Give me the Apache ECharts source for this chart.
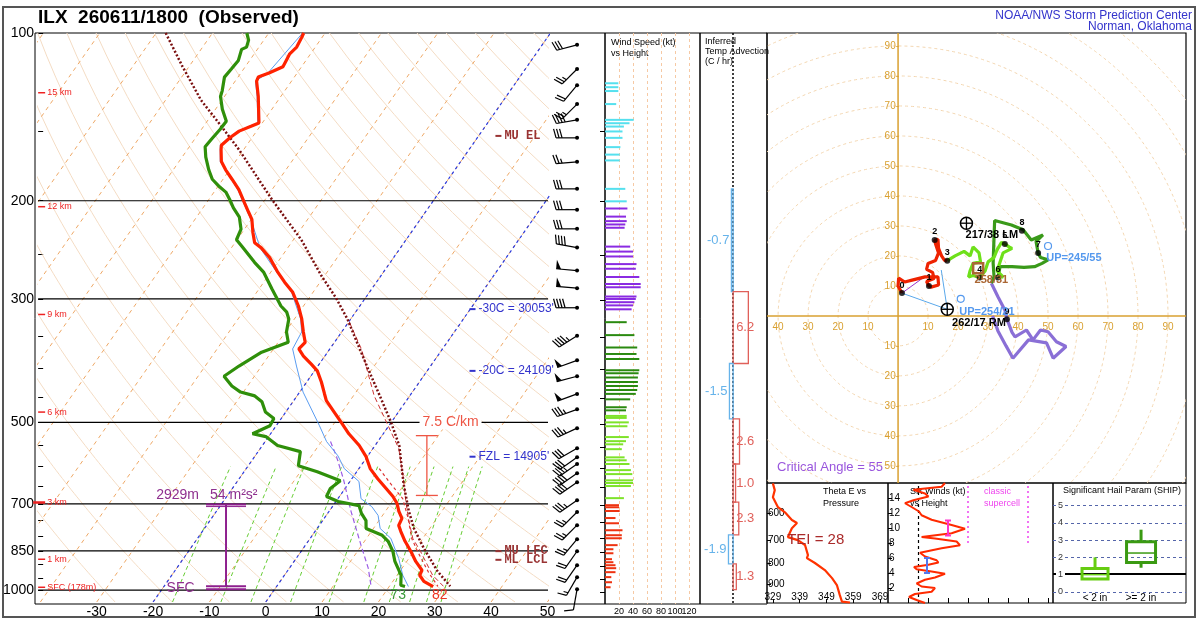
<!DOCTYPE html>
<html><head><meta charset="utf-8">
<script src="https://cdn.jsdelivr.net/npm/echarts@6/dist/echarts.min.js"></script>
<style>html,body{margin:0;padding:0;background:#fff}#c{width:1200px;height:619px}</style>
</head><body><div id="c"></div>
<script>
const FONT = "'Liberation Sans', Arial, sans-serif";
const SKEW = 30, PBOT = 1050;
function sx(t, p){ return t + SKEW*Math.log(PBOT/p); }
function prof(P, T){ return P.map((p,i)=>[sx(T[i],p), p]); }

// ---------------- DATA ----------------
const tempP = [100,102,106,109,112,115,118,120,122,130,145,147,150,154,159,162,170,176,183,191,202,210,216,228,238,243,253,268,280,292,309,326,344,359,369,380,393,404,423,444,457,479,503,524,550,576,605,631,657,679,699,722,743,765,784,817,852,888,921,940,964,985];
const tempT = [-63.8,-63.6,-63.3,-63.7,-63.5,-63.3,-65.0,-66.4,-66.2,-64.0,-60.6,-61.6,-63.1,-63.9,-64.5,-64.0,-62.5,-60.7,-58.4,-55.9,-53.2,-51.3,-49.9,-48.1,-46.5,-44.7,-42.0,-38.9,-36.3,-33.6,-30.9,-28.7,-26.8,-25.2,-25.5,-23.8,-21.4,-19.5,-17.4,-15.4,-14.2,-11.4,-8.5,-6.1,-2.8,-0.2,2.0,4.6,7.3,9.5,11.1,12.4,13.8,14.1,15.2,17.2,19.5,21.6,23.8,24.0,25.5,27.8];
const dwptP = [100,103,106,107,112,116,120,127,130,137,144,149,155,160,167,176,183,189,193,199,206,214,225,235,242,258,269,288,309,317,326,344,359,365,374,396,413,430,441,448,459,479,492,507,524,530,550,564,598,613,636,657,679,693,705,728,750,775,797,817,852,888,940,980,985];
const dwptT = [-73.9,-72.7,-72.2,-72.8,-72.0,-72.2,-72.4,-71.1,-70.7,-68.8,-66.6,-66.7,-67.0,-67.2,-65.8,-63.7,-61.9,-59.6,-57.9,-56.3,-54.6,-52.4,-50.6,-50.1,-48.2,-44.1,-41.2,-37.7,-34.0,-32.2,-31.0,-29.8,-28.2,-29.6,-31.7,-34.0,-35.4,-32.8,-30.5,-27.5,-25.5,-23.6,-21.3,-21.1,-23.2,-20.5,-17.3,-12.5,-11.1,-7.0,-1.8,-2.6,-2.3,0.4,4.6,6.0,7.7,8.7,12.4,14.2,16.3,17.9,20.7,21.9,22.8];
const wetbP = [100,118,122,130,145,150,159,170,191,216,243,268,292,326,344,369,396,441,507,541,574,605,638,685,708,734,775,807,877,940,985];
const wetbT = [-64.0,-65.2,-66.4,-64.2,-60.8,-63.3,-64.7,-62.7,-56.1,-50.1,-44.9,-39.1,-33.8,-28.9,-27.1,-26.6,-23.8,-19.4,-12.3,-9.1,-5.3,-2.6,1.6,4.1,7.0,9.2,11.2,14.3,18.2,21.0,23.4];
const muParcelP = [100,115,132,146,162,199,235,273,299,326,359,401,448,499,550,644,719,775,841,925,984];
const muParcelT = [-88.3,-81.1,-73.7,-67.3,-60.8,-48.8,-38.6,-30.5,-25.2,-20.6,-16.0,-10.7,-5.3,-0.1,4.3,9.8,14.0,17.2,21.4,26.7,30.8];
const mlParcelP = [330,369,448,557,623,693,750,807,852,940,984];
const mlParcelT = [-19.9,-14.4,-6.3,4.6,8.7,12.4,15.3,18.2,21.2,26.3,29.6];
const vtParcelP = [605,644,685,743,807,859,932,984];
const vtParcelT = [3.6,7.5,11.5,14.9,18.0,21.1,25.4,28.6];
const downP = [541,574,631,722,831,913,980];
const downT = [-8.4,-5.6,-1.5,3.9,9.9,14.0,16.6];

const isobarP = [200,300,500,700,850,1000];
const pressLabels = [100,200,300,500,700,850,1000];
const tempLabels = [-30,-20,-10,0,10,20,30,40,50];
const isothermT = [-120,-110,-100,-90,-80,-70,-60,-50,-40,-30,-20,-10,0,10,20,30,40,50];
const adiabatTheta = [243,253,263,273,283,293,303,313,323,333,343,353,363,373,383,393,403,413,423,433,443,453,463,473,483,493,503,513,523];
const mixW = [1,2,3,5,8,12,16,20,24,28];
const blueIsoT = [-20,0];

const hgtNames = ['15 km','12 km','9 km','6 km','3 km','1 km','SFC (178m)'];
const hgtP = [128,205,320,479,696,880,988];
const isoLblText = ["-30C = 30053'", "-20C = 24109'", "FZL = 14905'"];
const isoLblP = [313,404,576];
const lvlLblText = ['MU EL','MU LFC','ML LCL'];
const lvlLblP = [153,851,882];
const lapseBar = [[28.6,528,676]];
const inflowBar = [[-7.05,702,984]];

const barbP = [105,116,124,134,143,154,170,190,207,224,242,266,286,310,348,385,411,442,471,509,553,574,590,613,636,685,719,759,804,845,895,940,988];
const barbDir = [255,225,220,225,260,270,265,270,270,270,280,275,275,270,238,250,255,250,250,245,240,235,235,235,235,235,225,225,220,215,215,210,190];
const barbSpd = [30,25,20,25,40,30,25,30,30,30,40,50,50,40,45,50,50,50,35,35,30,30,35,40,40,35,25,25,25,20,20,15,10];

const wsCyanP = [123,125,127,134,143,145,147,150,154,160,165,169,190,200];
const wsCyanKt = [19,19,19,16,41,35,27,25,25,22,21,21,29,31];
const wsPurpleP = [206,213,217,220,223,241,246,251,259,264,273,281,285,296,299,303,307,312];
const wsPurpleKt = [32,30,31,29,28,36,40,40,45,44,49,51,51,45,44,42,40,38];
const wsDkGreenP = [329,347,365,375,383,401,406,413,421,428,435,442,452,467,473];
const wsDkGreenKt = [31,42,46,45,49,49,48,47,47,47,46,44,36,31,30];
const wsLtGreenP = [484,488,497,505,528,537,544,555,574,581,590,605,615,631,638,646,679];
const wsLtGreenKt = [31,31,34,32,34,30,26,24,28,31,35,37,39,40,40,37,27];
const wsRedP = [699,705,716,737,753,775,791,801,824,838,852,873,884,895,906,921,940,960,980];
const wsRedKt = [20,20,21,15,20,25,24,24,18,12,12,10,12,15,16,15,9,10,8];
const wsTicks = [20,40,60,80,100,120];

const advTopP = [190,290,390,490,590,690,790,890];
const advBotP = [290,390,490,590,690,790,890,990];
const advVal = [-0.7,6.2,-1.5,2.6,1.0,2.3,-1.9,1.3];

const hodo03 = [[1.3,7.6],[0,10],[0.2,12.6],[2.2,11.3],[5,12],[9,13],[13.3,13],[13.5,10.3],[11,9.6],[10.3,10],[9.5,11.5],[12,12.5],[11.5,14.5],[9.5,15.5],[10,17.5],[12.5,18.5],[13.5,21],[12.5,24],[12.2,25.3],[13.3,25.5],[13.5,22.5],[14.5,20],[15.5,18.5],[16.4,18.4]];
const hodo36 = [[16.4,18.4],[19,20],[22,21.5],[24,20],[25,23],[27,21],[27.5,18],[25,17.5],[24,15],[23.5,13],[25,13.5],[27.2,12.8],[29,15],[30,18],[32,19.5],[33,22],[34.5,24.5],[35.6,24],[37,23],[38,22.5],[35,21],[34,18],[33,15],[35,13],[33.3,12.8]];
const hodo69 = [[33.3,12.8],[34,16.4],[38,16.4],[42,16.2],[45.5,16.4],[48,17.5],[50,18.7],[47.5,19.5],[46.7,21],[46,24.8],[48.3,27],[44.4,25.3],[41.7,28.7],[41.3,28.4],[37.8,30.3],[32.2,31.8],[32,26.4],[31.7,17.6],[32,13.1],[31.1,10.9]];
const hodo912 = [[31.1,10.9],[33.3,6.4],[35.6,2],[36.3,-1.1],[38,-5.5],[39,-7],[42.8,-4.7],[45,-8],[47.5,-4.7],[50,-5.3],[52.8,-8.6],[56,-10.2],[51.7,-14.1],[49.5,-9],[46.5,-8.5],[43.5,-8],[38.3,-14.1],[36,-10],[33.3,-5],[31.5,0]];
const hodoKmPts = [[1.3,7.6],[10.3,10],[12.2,25.3],[16.4,18.4],[27.2,12.8],[35.6,24],[33.3,12.8],[46.7,21],[41.3,28.4],[36.3,-1.1]];
const hodoKmNames = ['0','1','2','3','4','5','6','7','8','9'];
const ringR = [10,20,30,40,50,60,70,80,90,100,110,120];
const hodoXTicks = [-40,-30,-20,-10,10,20,30,40,50,60,70,80,90];
const hodoYTicks = [-50,-40,-30,-20,-10,10,20,30,40,50,60,70,80,90];
const stormMarks = [[22.8,30.9,0],[16.4,2.2,0],[20.9,5.7,1],[50,23.3,1],[26.7,15.9,2]];
const hodoText = ['217/38 LM','262/17 RM','UP=254/21','UP=245/55','258/31'];
const hodoTextPos = [[22.5,27],[18,-2.2],[20.4,1.4],[49.4,19.2],[25.5,12]];
const hodoTextColor = ['#000','#000','#5599ee','#5599ee','#aa6633'];
const rmToUp = [[16.4,2.2],[14.4,15.3]];
const sfcToMean = [[1.3,7.6],[8.9,13.1]];

const thetaEP = [506,526,548,580,597,624,635,654,688,700,720,763,776,798,831,870,905,959,995,1000];
const thetaE = [329,329.7,329,330.9,333.5,336.1,338.0,336.1,334.6,338.3,341.0,342.1,341.7,344.7,348.4,351.1,352.9,354.0,354.8,357.8];
const thetaTicks = [329,339,349,359,369];
const thetaPTicks = [600,700,800,900];

const srKm = [0,0.4,0.8,1.2,1.5,2.0,2.2,2.6,3.1,3.4,3.9,4.2,4.5,4.8,5.1,5.4,5.7,6.2,6.7,7.3,7.7,8.2,8.6,8.8,9.3,9.9,10.4,11.1,11.7,12.2,12.8,13.3,13.7,14.2,14.6,15.1,15.5,16];
const srKt = [18.5,14.3,10.5,13.5,21.8,23.5,16.8,14.3,18.5,23.5,28.5,21.8,14.3,13,20.2,25.2,24.3,18.5,16,26.8,36,34.3,23.5,16.8,31.8,38.5,31.8,21.8,16.8,15.5,11.8,8.5,12.7,20.2,18.5,12.7,26.8,28.5];
const srKmTicks = [2,4,6,8,10,12,14];
const srKtTicks = [10,20,30,40,50,60,70,80];

const shipX = [0.316,0.662];
const shipLo = [0.75,1.4], shipQ1 = [0.75,1.7], shipMed = [1.0,2.25], shipQ3 = [1.35,2.9], shipHi = [2.0,3.6];
const shipNames = ['< 2 in','>= 2 in'];
const shipTicks = [0,1,2,3,4,5];

// ---------------- HELPERS ----------------
const series = [];
const SK = {xAxisIndex:1, yAxisIndex:1};
function bgLine(pts, color, width, type, z){
  series.push(Object.assign({type:'line', data:pts, symbol:'none', silent:true, animation:false, clip:true,
    lineStyle:{color:color, width:width, type:type}, z:z||1}, SK));
}
function textSeries(xi, yi, pts, texts, st){
  return {type:'custom', xAxisIndex:xi, yAxisIndex:yi, encode:{x:0,y:1}, silent:true, animation:false, clip:false, z:st.z||30,
    data: pts,
    renderItem:function(params, api){
      const c = api.coord([api.value(0), api.value(1)]);
      const i = params.dataIndex;
      const col = Array.isArray(st.color) ? st.color[i] : st.color;
      const kids = [];
      if (st.dash){ kids.push({type:'line', shape:{x1:c[0]-3,y1:c[1],x2:c[0]+3,y2:c[1]}, style:{stroke:col, lineWidth:2}}); }
      kids.push({type:'text', x:c[0]+(st.dx||0), y:c[1]+(st.dy||0), style:{text:texts[i], fill:col, font:st.font,
        align:st.align||'left', verticalAlign:st.va||'middle', backgroundColor:st.bg, padding:st.pad}});
      return {type:'group', children:kids};
    }};
}

// ---------------- SKEW-T BACKGROUND ----------------
adiabatTheta.forEach(th=>{
  const pts=[]; for(let p=100;p<=1050;p+=10){ pts.push([sx(th*Math.pow(p/1000,0.2857)-273.15,p),p]); }
  bgLine(pts,'#f4dcc4',1,'solid',1);
});
isothermT.forEach(t=>bgLine([[sx(t,1050),1050],[sx(t,100),100]],'#eea866',1,[4,4],2));
mixW.forEach(w=>{
  const pts=[]; for(let p=1050;p>=600;p-=25){ const e=w*p/(622+w); const l=Math.log(e/6.112); pts.push([sx(243.5*l/(17.67-l),p),p]); }
  bgLine(pts,'#66cc33',1,[4,3],2);
});
blueIsoT.forEach(t=>bgLine([[sx(t,1050),1050],[sx(t,100),100]],'#2b3be0',1.2,[3,3],3));
isobarP.forEach(p=>bgLine([[-40.4,p],[50.1,p]],'#000',1.2,'solid',4));

// ---------------- PROFILES ----------------
function prLine(P,T,color,width,type,z){ series.push(Object.assign({type:'line', data:prof(P,T), symbol:'none', silent:true, animation:false, clip:true, lineStyle:{color:color,width:width,type:type}, z:z}, SK)); }
prLine(downP,downT,'#9b5de5',1.2,[5,3],6);
prLine(vtParcelP,vtParcelT,'#dd3333',1.2,[3,3],6);
prLine(mlParcelP,mlParcelT,'#cc3333',1,[5,3],6);
prLine(muParcelP,muParcelT,'#7a0f0f',2.5,[2,2],7);
prLine(wetbP,wetbT,'#5a9cf0',1,'solid',8);
prLine(dwptP,dwptT,'#2f8f0a',3.2,'solid',9);
prLine(tempP,tempT,'#ff2200',3.2,'solid',10);

function ibar(xi, yi, pts, color, half, width, dbl){
  return {type:'custom', xAxisIndex:xi, yAxisIndex:yi, encode:{x:0,y:[1,2]}, silent:true, animation:false, clip:false, z:12, data:pts,
    renderItem:function(params, api){
      const a = api.coord([api.value(0), api.value(1)]), b = api.coord([api.value(0), api.value(2)]);
      const st = {stroke:color, lineWidth:width};
      const k = [{type:'line', shape:{x1:a[0],y1:a[1],x2:b[0],y2:b[1]}, style:st},
        {type:'line', shape:{x1:a[0]-half,y1:a[1],x2:a[0]+half,y2:a[1]}, style:st},
        {type:'line', shape:{x1:b[0]-half,y1:b[1],x2:b[0]+half,y2:b[1]}, style:st}];
      if (dbl){ k.push({type:'line', shape:{x1:b[0]-half,y1:b[1]+3,x2:b[0]+half,y2:b[1]+3}, style:st});
                k.push({type:'line', shape:{x1:a[0]-half,y1:a[1]+2,x2:a[0]+half,y2:a[1]+2}, style:{stroke:color,lineWidth:1}}); }
      return {type:'group', children:k};
    }};
}
series.push(ibar(1,1,lapseBar,'#ee5544',11,1.3,false));
series.push(ibar(1,1,inflowBar,'#8e1f8e',20,2,true));

// texts on skew-T
series.push(textSeries(1,1,[[32.8,500]],['7.5 C/km'],{color:'#ee5544', font:'14px '+FONT, align:'center', bg:'#fff', pad:[0,3]}));
series.push(textSeries(1,1,[[inflowBar[0][0],inflowBar[0][1]]],['2929m'],{color:'#8e2f8e', font:'14px '+FONT, align:'right', dx:-27, dy:-9}));
series.push(textSeries(1,1,[[inflowBar[0][0],inflowBar[0][1]]],['54 m\u00b2s\u00b2'],{color:'#8e2f8e', font:'14px '+FONT, align:'left', dx:-16, dy:-9}));
series.push(textSeries(1,1,hgtP.map(p=>[-40.4,p]),hgtNames,{color:'#ee2222', font:'9px '+FONT, dx:9}));
series.push({type:'custom', xAxisIndex:1, yAxisIndex:1, encode:{x:0,y:1}, silent:true, clip:false, z:30, data:hgtP.map(p=>[-40.4,p]),
  renderItem:function(params, api){ const c=api.coord([api.value(0),api.value(1)]); const big = hgtNames[params.dataIndex]==='3 km';
    return {type:'line', shape:{x1:c[0]-(big?5:0),y1:c[1],x2:c[0]+7,y2:c[1]}, style:{stroke:'#ee2222', lineWidth:big?2.5:1.5}}; }});
series.push(textSeries(1,1,isoLblP.map(p=>[36.7,p]),isoLblText,{color:'#3333cc', font:'12px '+FONT, dx:6, dash:true}));
series.push(textSeries(1,1,lvlLblP.map(p=>[41.3,p]),lvlLblText,{color:'#993333', font:'bold 12px "Liberation Mono", "Courier New", monospace', dx:6, dash:true}));
series.push(textSeries(1,1,[[-17.6,990]],['SFC'],{color:'#8e2f8e', font:'14px '+FONT}));
series.push(textSeries(1,1,[[23.5,1021],[30.9,1021]],['73','82'],{color:['#3a9a3a','#ee3322'], font:'14px '+FONT, align:'center'}));

// ---------------- WIND BARBS ----------------
function renderBarb(params, api){
  const c = api.coord([api.value(0), api.value(1)]);
  const d = api.value(2)*Math.PI/180, spd = api.value(3);
  const ux = Math.sin(d), uy = -Math.cos(d), nx = -uy, ny = ux;
  const L = 21, F = 9;
  const tx = c[0]+ux*L, ty = c[1]+uy*L;
  const st = {stroke:'#000', lineWidth:1.2};
  const ch = [{type:'line', shape:{x1:c[0],y1:c[1],x2:tx,y2:ty}, style:st},
              {type:'circle', shape:{cx:c[0],cy:c[1],r:2}, style:{fill:'#000'}}];
  let s = Math.round(spd/5)*5, pos = 0;
  while (s >= 50){ const bx=tx-ux*pos, by=ty-uy*pos;
    ch.push({type:'polygon', shape:{points:[[bx,by],[bx-ux*5,by-uy*5],[bx+nx*F,by+ny*F]]}, style:{fill:'#000'}}); pos+=6; s-=50; }
  while (s >= 10){ const bx=tx-ux*pos, by=ty-uy*pos;
    ch.push({type:'line', shape:{x1:bx,y1:by,x2:bx+nx*F+ux*2.5,y2:by+ny*F+uy*2.5}, style:st}); pos+=3; s-=10; }
  if (s >= 5){ if(pos===0) pos=3; const bx=tx-ux*pos, by=ty-uy*pos;
    ch.push({type:'line', shape:{x1:bx,y1:by,x2:bx+nx*F/2+ux*1.2,y2:by+ny*F/2+uy*1.2}, style:st}); }
  return {type:'group', children:ch};
}
series.push({type:'custom', xAxisIndex:2, yAxisIndex:2, encode:{x:0,y:1}, silent:true, animation:false, clip:false, z:10,
  data: barbP.map((p,i)=>[0.51,p,barbDir[i],barbSpd[i]]), renderItem:renderBarb});

// ---------------- WIND SPEED BARS ----------------
function wsSeries(P,K,color){
  return {type:'custom', xAxisIndex:3, yAxisIndex:3, encode:{x:0,y:1}, silent:true, animation:false, clip:true, z:10,
    data:P.map((p,i)=>[K[i],p]),
    renderItem:function(params, api){ const a=api.coord([0,api.value(1)]), b=api.coord([api.value(0),api.value(1)]);
      return {type:'line', shape:{x1:a[0],y1:a[1],x2:b[0],y2:b[1]}, style:{stroke:color,lineWidth:2}}; }};
}
const wsFirst = wsSeries(wsCyanP,wsCyanKt,'#55e0ee');
wsFirst.markLine = {silent:true, symbol:'none', animation:false, label:{show:false}, lineStyle:{color:'#f6c9a4', type:[3,3], width:1}, data: wsTicks.map(v=>({xAxis:v}))};
series.push(wsFirst);
series.push(wsSeries(wsPurpleP,wsPurpleKt,'#8a2be2'));
series.push(wsSeries(wsDkGreenP,wsDkGreenKt,'#2a8a10'));
series.push(wsSeries(wsLtGreenP,wsLtGreenKt,'#7ee32a'));
series.push(wsSeries(wsRedP,wsRedKt,'#ee3311'));
series.push(textSeries(3,3,wsTicks.map(v=>[v,1050]),wsTicks.map(String),{color:'#000', font:'9px '+FONT, align:'center', dy:8}));

// ---------------- TEMP ADVECTION ----------------
series.push({type:'custom', xAxisIndex:4, yAxisIndex:4, encode:{x:0,y:[1,2]}, silent:true, animation:false, clip:false, z:10,
  data: advVal.map((v,i)=>[v,advTopP[i],advBotP[i]]),
  markLine:{silent:true, symbol:'none', animation:false, label:{show:false}, lineStyle:{color:'#000', type:[2,2], width:1.5}, data:[{xAxis:0}]},
  renderItem:function(params, api){
    const v=api.value(0); const a=api.coord([0,api.value(1)]), b=api.coord([v,api.value(2)]);
    const col = v<0 ? '#66b3ea' : '#e0605a';
    const x0=Math.min(a[0],b[0]), w=Math.max(1.5,Math.abs(b[0]-a[0]));
    const ym=(a[1]+b[1])/2;
    return {type:'group', children:[
      {type:'rect', shape:{x:x0,y:a[1],width:w,height:b[1]-a[1]}, style:{fill:'none',stroke:col,lineWidth:1.3}},
      {type:'text', x: v<0 ? b[0]-2 : a[0]+3, y:ym, style:{text:v.toFixed(1), fill:col, font:'13px '+FONT, align: v<0?'right':'left', verticalAlign:'middle'}}
    ]};
  }});

// ---------------- HODOGRAPH ----------------
const goldAx = '#d9a030';
series.push({type:'custom', xAxisIndex:5, yAxisIndex:5, encode:{x:0,y:1}, silent:true, animation:false, clip:true, z:1,
  data: ringR.map(r=>[r,0]),
  renderItem:function(params, api){ const c=api.coord([0,0]); const r=api.size([api.value(0),0])[0];
    return {type:'circle', shape:{cx:c[0],cy:c[1],r:r}, style:{fill:'none',stroke:'#f3d6b0',lineWidth:1,lineDash:[3,3]}}; }});
function hodoLine(pts,color,width,z){ series.push({type:'line', xAxisIndex:5, yAxisIndex:5, data:pts, symbol:'none', silent:true, animation:false, clip:true, lineStyle:{color:color,width:width}, z:z||8}); }
hodoLine([[-43.7,0],[96,0]],goldAx,1.5,3);
hodoLine([[0,-55.7],[0,94.3]],goldAx,1.5,3);
series.push(textSeries(5,5,hodoXTicks.map(v=>[v,0]),hodoXTicks.map(v=>String(Math.abs(v))),{color:goldAx, font:'10px '+FONT, align:'center', dy:11, z:4}));
series.push(textSeries(5,5,hodoYTicks.map(v=>[0,v]),hodoYTicks.map(v=>Math.abs(v)+'-'),{color:goldAx, font:'10px '+FONT, align:'right', dx:1, z:4}));
hodoLine([hodoKmPts[0],stormMarks[1].slice(0,2)],'#5aa8ea',1,6);
hodoLine(rmToUp,'#5aa8ea',1,6);
hodoLine(sfcToMean,'#9933cc',1,6);
hodoLine(hodo912,'#8a6fd6',3.2);
hodoLine(hodo69,'#3a9a1a',3.2);
hodoLine(hodo36,'#6ee01a',3.2);
hodoLine(hodo03,'#ee2200',3.2);
series.push({type:'scatter', xAxisIndex:5, yAxisIndex:5, data:hodoKmPts, symbolSize:6, itemStyle:{color:'#000'}, silent:true, animation:false, z:12});
series.push(textSeries(5,5,hodoKmPts,hodoKmNames,{color:'#000', font:'bold 9px '+FONT, align:'center', dy:-8, z:13}));
series.push({type:'custom', xAxisIndex:5, yAxisIndex:5, encode:{x:0,y:1}, silent:true, animation:false, clip:true, z:14,
  data: stormMarks,
  renderItem:function(params, api){ const c=api.coord([api.value(0),api.value(1)]); const t=api.value(2);
    if (t===0) return {type:'group', children:[
      {type:'circle', shape:{cx:c[0],cy:c[1],r:6}, style:{fill:'none',stroke:'#000',lineWidth:1.5}},
      {type:'line', shape:{x1:c[0]-6,y1:c[1],x2:c[0]+6,y2:c[1]}, style:{stroke:'#000',lineWidth:1.3}},
      {type:'line', shape:{x1:c[0],y1:c[1]-6,x2:c[0],y2:c[1]+6}, style:{stroke:'#000',lineWidth:1.3}}]};
    if (t===1) return {type:'circle', shape:{cx:c[0],cy:c[1],r:3.5}, style:{fill:'none',stroke:'#5599ee',lineWidth:1.2}};
    return {type:'rect', shape:{x:c[0]-5,y:c[1]-5,width:10,height:10}, style:{fill:'none',stroke:'#aa6633',lineWidth:2.5}};
  }});
series.push(textSeries(5,5,hodoTextPos,hodoText,{color:hodoTextColor, font:'bold 11px '+FONT, z:15}));

// ---------------- THETA-E ----------------
series.push({type:'line', xAxisIndex:6, yAxisIndex:6, data:thetaE.map((t,i)=>[t,thetaEP[i]]), symbol:'none', silent:true, animation:false, clip:true,
  lineStyle:{color:'#ff3300', width:2.2}, z:10});
series.push(textSeries(6,6,[[345,700]],['TEI = 28'],{color:'#aa2a2a', font:'15px '+FONT, align:'center'}));

// ---------------- SR WINDS ----------------
series.push({type:'line', xAxisIndex:7, yAxisIndex:7, data:srKt.map((k,i)=>[k,srKm[i]]), symbol:'none', silent:true, animation:false, clip:true,
  lineStyle:{color:'#ff2a00', width:2}, z:10,
  markLine:{silent:true, symbol:'none', animation:false, label:{show:false},
    data:[{xAxis:15, lineStyle:{color:'#000', type:[3,3], width:1.2}},
          [{coord:[40,8], lineStyle:{color:'#ee44ee', type:[2,3], width:1.5}},{coord:[40,16]}],
          [{coord:[70,8], lineStyle:{color:'#ee44ee', type:[2,3], width:1.5}},{coord:[70,16]}]]}});
series.push(ibar(7,7,[[30,9,11]],'#ff33cc',3,2,false));
series.push(ibar(7,7,[[19.5,4,6]],'#5577ee',3,2,false));

// ---------------- SHIP ----------------
series.push({type:'custom', xAxisIndex:8, yAxisIndex:8, encode:{x:0,y:[1,5]}, silent:true, animation:false, clip:false, z:10,
  data: shipX.map((x,i)=>[x,shipLo[i],shipQ1[i],shipMed[i],shipQ3[i],shipHi[i]]),
  markLine:{silent:true, symbol:'none', animation:false, label:{show:false}, lineStyle:{color:'#5566aa', type:[3,3], width:1},
    data: shipTicks.map(v=>({yAxis:v})).concat([{yAxis:1.05, lineStyle:{color:'#000', type:'solid', width:2}}])},
  renderItem:function(params, api){
    const i=params.dataIndex; const col = i===0 ? '#66cc11' : '#3a9a12'; const hw = i===0 ? 13 : 14.5;
    const lo=api.coord([api.value(0),api.value(1)]), q1=api.coord([api.value(0),api.value(2)]), md=api.coord([api.value(0),api.value(3)]),
          q3=api.coord([api.value(0),api.value(4)]), hi=api.coord([api.value(0),api.value(5)]);
    const st={stroke:col, lineWidth:3};
    return {type:'group', children:[
      {type:'line', shape:{x1:hi[0],y1:hi[1],x2:q3[0],y2:q3[1]}, style:st},
      {type:'line', shape:{x1:q1[0],y1:q1[1],x2:lo[0],y2:lo[1]}, style:st},
      {type:'rect', shape:{x:q3[0]-hw,y:q3[1],width:2*hw,height:q1[1]-q3[1]}, style:{fill:'none',stroke:col,lineWidth:3}},
      {type:'line', shape:{x1:md[0]-hw,y1:md[1],x2:md[0]+hw,y2:md[1]}, style:{stroke:col,lineWidth:1.5}}
    ]};
  }});
series.push(textSeries(8,8,shipX.map(x=>[x,-0.35]),shipNames,{color:'#000', font:'10px '+FONT, align:'center'}));
series.push(textSeries(8,8,shipTicks.map(v=>[0,v]),shipTicks.map(String),{color:'#333', font:'9px '+FONT, align:'left', dx:3, bg:'#fff', pad:[0,2]}));

// ---------------- AXES / GRIDS ----------------
const hid = {show:false};
const noLine = {show:false, onZero:false};
const grids = [
  {left:35, top:33, width:570, height:571, show:true, borderColor:'#000', borderWidth:1, backgroundColor:'transparent'},
  {left:35, top:33, width:513, height:571},
  {left:548, top:33, width:57, height:571},
  {left:605, top:33, width:95, height:571, show:true, borderColor:'#000', borderWidth:1, backgroundColor:'transparent'},
  {left:700, top:33, width:67, height:571, show:true, borderColor:'#000', borderWidth:1, backgroundColor:'transparent'},
  {left:767, top:33, width:419, height:450, show:true, borderColor:'#000', borderWidth:1.2, backgroundColor:'transparent'},
  {left:767, top:483, width:121, height:120, show:true, borderColor:'#000', borderWidth:1, backgroundColor:'transparent'},
  {left:888, top:483, width:165, height:120, show:true, borderColor:'#000', borderWidth:1, backgroundColor:'transparent'},
  {left:1053, top:483, width:133, height:120, show:true, borderColor:'#000', borderWidth:1, backgroundColor:'transparent'}
];
const xAxes = [
  {gridIndex:0, type:'value', min:0, max:1, show:false},
  {gridIndex:1, type:'value', min:-40.4, max:50.1, axisLine:noLine, axisTick:hid, splitLine:hid,
    axisLabel:{customValues:tempLabels, fontSize:14, color:'#000', margin:3, fontFamily:FONT}},
  {gridIndex:2, type:'value', min:0, max:1, show:false},
  {gridIndex:3, type:'value', min:0, max:135.7, show:false},
  {gridIndex:4, type:'value', min:-13.5, max:13.8, show:false},
  {gridIndex:5, type:'value', min:-43.7, max:96, show:false},
  {gridIndex:6, type:'value', min:326.8, max:372, axisLine:noLine, splitLine:hid,
    axisTick:{inside:true, customValues:thetaTicks, length:4, lineStyle:{color:'#000'}},
    axisLabel:{inside:true, customValues:thetaTicks, fontSize:10, color:'#000', margin:1, fontFamily:FONT}},
  {gridIndex:7, type:'value', min:0, max:82.5, axisLine:noLine, splitLine:hid, axisLabel:hid,
    axisTick:{inside:true, customValues:srKtTicks, length:5, lineStyle:{color:'#000'}}},
  {gridIndex:8, type:'value', min:0, max:1, show:false}
];
const logY = (gi)=>({gridIndex:gi, type:'log', logBase:10, min:100, max:1050, inverse:true, show:false});
const pTicks = []; for (let p=100;p<=1000;p+=50) pTicks.push(p);
const yAxes = [
  {gridIndex:0, type:'value', min:0, max:1, show:false},
  {gridIndex:1, type:'log', logBase:10, min:100, max:1050, inverse:true, axisLine:noLine, splitLine:hid,
    axisTick:{inside:true, length:5, customValues:pTicks, lineStyle:{color:'#000'}},
    axisLabel:{customValues:pressLabels, formatter:v=>String(Math.round(v)), fontSize:14, color:'#000', margin:4, fontFamily:FONT}},
  logY(2),
  {gridIndex:3, type:'log', logBase:10, min:100, max:1050, inverse:true, axisLine:noLine, splitLine:hid, axisLabel:hid,
    axisTick:{length:5, customValues:pTicks.filter(p=>p>100), lineStyle:{color:'#000'}}},
  logY(4),
  {gridIndex:5, type:'value', min:-55.7, max:94.3, show:false},
  {gridIndex:6, type:'log', logBase:10, min:505, max:1003, inverse:true, axisLine:noLine, splitLine:hid,
    axisTick:{inside:true, customValues:thetaPTicks, length:4, lineStyle:{color:'#000'}},
    axisLabel:{inside:true, customValues:thetaPTicks, formatter:v=>String(Math.round(v)), fontSize:10, color:'#000', margin:1, fontFamily:FONT}},
  {gridIndex:7, type:'value', min:0, max:16, axisLine:noLine, splitLine:hid,
    axisTick:{inside:true, customValues:srKmTicks, length:4, lineStyle:{color:'#000'}},
    axisLabel:{inside:true, customValues:srKmTicks, fontSize:10, color:'#000', margin:1, fontFamily:FONT}},
  {gridIndex:8, type:'value', min:-0.64, max:6.3, show:false}
];

const small = '9px '+FONT;
const graphic = [
  {type:'rect', shape:{x:3,y:7,width:1192,height:610}, style:{fill:'none', stroke:'#555', lineWidth:2}, z:100},
  {type:'text', x:38, y:8, style:{text:'ILX  260611/1800  (Observed)', font:'bold 19px '+FONT, fill:'#000'}},
  {type:'text', x:1192, y:10, style:{text:'NOAA/NWS Storm Prediction Center\nNorman, Oklahoma', font:'12px '+FONT, fill:'#3333cc', align:'right', lineHeight:11}},
  {type:'text', x:611, y:37, style:{text:'Wind Speed (kt)\nvs Height', font:small, fill:'#000', lineHeight:11}},
  {type:'text', x:705, y:37, style:{text:'Inferred\nTemp Advection\n(C / hr)', font:small, fill:'#000', lineHeight:10}},
  {type:'text', x:823, y:486, style:{text:'Theta E vs\nPressure', font:small, fill:'#000', lineHeight:12}},
  {type:'text', x:910, y:486, style:{text:'SR Winds (kt)\nvs Height', font:small, fill:'#000', lineHeight:12}},
  {type:'text', x:984, y:486, style:{text:'classic\nsupercell', font:small, fill:'#ee44ee', lineHeight:12}},
  {type:'text', x:1063, y:486, style:{text:'Significant Hail Param (SHIP)', font:small, fill:'#000'}},
  {type:'text', x:777, y:461, style:{text:'Critical Angle = 55', font:'13px '+FONT, fill:'#9955dd'}}
];

const chart = echarts.init(document.getElementById('c'));
chart.setOption({animation:false, textStyle:{fontFamily:FONT}, grid:grids, xAxis:xAxes, yAxis:yAxes, series:series, graphic:graphic});
</script>
</body></html>
